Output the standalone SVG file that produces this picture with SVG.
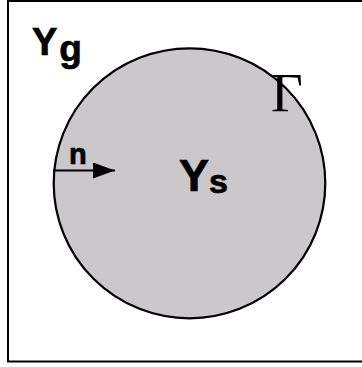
<svg xmlns="http://www.w3.org/2000/svg" width="362" height="367" viewBox="0 0 362 367">
<style>
.lbl{font-family:"Liberation Sans",Arial,sans-serif;font-weight:bold;fill:#000;stroke:#000;stroke-width:0.7}
.gam{font-family:"Liberation Serif","Times New Roman",serif;fill:#000}
</style>
<defs>
<marker id="ah" markerUnits="userSpaceOnUse" markerWidth="22" markerHeight="16" refX="22" refY="8" orient="auto">
<path d="M0,0 L22,8 L0,16 Z" fill="#000"/>
</marker>
</defs>
<rect width="362" height="367" fill="#fff"/>
<rect x="8" y="1" width="370" height="360.5" fill="none" stroke="#000" stroke-width="2"/>
<g id="solid">
<ellipse cx="189.5" cy="183.3" rx="135.8" ry="135" fill="#cac8ca" stroke="#000" stroke-width="2.2"/>
</g>
<g id="connectors">
<line x1="53" y1="170.5" x2="115" y2="170.5" stroke="#000" stroke-width="2" marker-end="url(#ah)"/>
</g>
<g id="labels">
<text class="lbl" x="32" y="55" font-size="38">Y<tspan dx="2" dy="6" font-size="37">g</tspan></text>
<text class="lbl" x="179" y="191" font-size="45">Y<tspan dy="2" font-size="34">s</tspan></text>
<text class="lbl" x="69" y="164" font-size="29">n</text>
<text class="gam" x="271" y="110.7" font-size="55">Γ</text>
</g>
</svg>
